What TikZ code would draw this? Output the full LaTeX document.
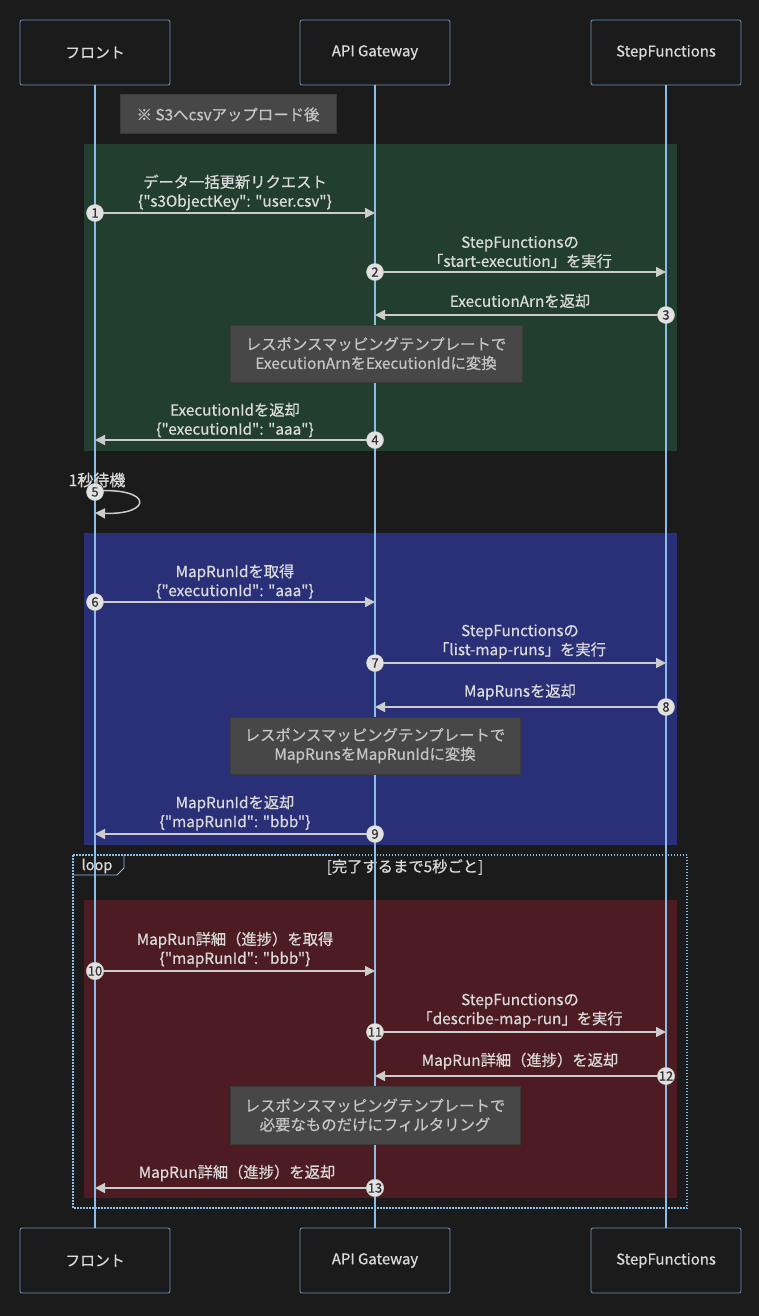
\documentclass[tikz,border=0pt]{standalone}
\usepackage{fontspec}
\setmainfont{Noto Sans CJK JP}[Ligatures = TeXOff, FakeBold = 0.6]
\usetikzlibrary{arrows.meta}

\definecolor{bgcol}{HTML}{1B1B1B}
\definecolor{actorline}{HTML}{6E93BC}
\definecolor{lifecol}{HTML}{8CBDE9}
\definecolor{greenreg}{HTML}{223E2F}
\definecolor{bluereg}{HTML}{2A3078}
\definecolor{redreg}{HTML}{4D1B22}
\definecolor{notefill}{HTML}{474747}
\definecolor{noteline}{HTML}{3A3A3A}
\definecolor{msgtext}{HTML}{DADADA}
\definecolor{notetext}{HTML}{C4C4C4}
\definecolor{msgline}{HTML}{CCCCCC}
\definecolor{numfill}{HTML}{E2E2E2}
\definecolor{numtext}{HTML}{333333}

\tikzset{
    actor/.style = {draw = actorline, fill = bgcol, rounded corners = 2pt, line width = 0.8pt,
        minimum width = 150pt, minimum height = 65pt, text = msgtext,
        font = \fontsize{14.9}{17}\selectfont},
    lifeline/.style = {draw = lifecol, line width = 1.3pt},
    seqnum/.style = {circle, fill = numfill, draw = msgline, line width = 0.5pt, inner sep = 0pt,
        minimum size = 17pt, text = numtext, font = \fontsize{13}{13}\selectfont},
    msg/.style = {draw = msgline, line width = 1.5pt, -{Triangle[length = 10pt, width = 10pt]}},
    msglabel/.style = {text = msgtext, align = center, inner sep = 0pt,
        font = \fontsize{15.3}{19}\selectfont},
    notebox/.style = {fill = notefill, draw = noteline, line width = 1pt, text = notetext,
        align = center, font = \fontsize{15.4}{19}\selectfont},
    loopline/.style = {draw = lifecol, line width = 1.2pt}
}

\begin{document}
\begin{tikzpicture}[x = 1pt, y = -1pt]
    \useasboundingbox [fill = bgcol] (0, 0) rectangle (759, 1316);

    % regions
    \fill [greenreg] (84, 144) rectangle (677, 451);
    \fill [bluereg] (84, 533) rectangle (677, 845);
    \fill [redreg] (84, 900) rectangle (677, 1198);

    % loop frame
    \draw [loopline, dash pattern = on 1.5pt off 1.5pt] (73, 855) rectangle (687, 1208);
    \draw [loopline, line width = 0.8pt] (73, 875) -- (117, 875) -- (124, 868) -- (124, 855);
    \node [text = msgtext, font = \fontsize{14.5}{14}\selectfont] (looptag) at (97, 866) {loop};
    \node [msglabel] (loopcond) at (405, 867) {[完了するまで5秒ごと]};

    % actors
    \node [actor] (front) at (95, 52.5) {フロント};
    \node [actor] (api) at (375, 52.5) {API Gateway};
    \node [actor] (sfn) at (666, 52.5) {StepFunctions};
    \node [actor] (frontb) at (95, 1260.5) {フロント};
    \node [actor] (apib) at (375, 1260.5) {API Gateway};
    \node [actor] (sfnb) at (666, 1260.5) {StepFunctions};

    \draw [lifeline]
        (front) -- (frontb)
        (api) -- (apib)
        (sfn) -- (sfnb)
    ;

    % notes
    \node [notebox, minimum width = 216pt, minimum height = 39pt] (upload) at (228, 114.5)
        {※ S3へcsvアップロード後};
    \node [notebox, minimum width = 292pt, minimum height = 57pt] (conv1) at (376, 353.5)
        {レスポンスマッピングテンプレートで\\ExecutionArnをExecutionIdに変換};
    \node [notebox, minimum width = 290pt, minimum height = 57pt] (conv2) at (375, 745.5)
        {レスポンスマッピングテンプレートで\\MapRunsをMapRunIdに変換};
    \node [notebox, minimum width = 290pt, minimum height = 58pt] (conv3) at (375, 1115)
        {レスポンスマッピングテンプレートで\\必要なものだけにフィルタリング};

    % message end points
    \coordinate (t1) at (375, 213);
    \coordinate (t2) at (666, 272);
    \coordinate (t3) at (375, 315);
    \coordinate (t4) at (95, 440);
    \coordinate (t5) at (95, 513);
    \coordinate (t6) at (375, 602);
    \coordinate (t7) at (666, 663);
    \coordinate (t8) at (375, 707);
    \coordinate (t9) at (95, 834);
    \coordinate (t10) at (375, 971);
    \coordinate (t11) at (666, 1032);
    \coordinate (t12) at (375, 1076);
    \coordinate (t13) at (95, 1188);

    % messages
    \draw [msg] (95, 213) -- (t1);
    \draw [msg] (375, 272) -- (t2);
    \draw [msg] (666, 315) -- (t3);
    \draw [msg] (375, 440) -- (t4);
    \draw [msg] (95, 491) .. controls (153, 487) and (153, 515) .. (t5);
    \draw [msg] (95, 602) -- (t6);
    \draw [msg] (375, 663) -- (t7);
    \draw [msg] (666, 707) -- (t8);
    \draw [msg] (375, 834) -- (t9);
    \draw [msg] (95, 971) -- (t10);
    \draw [msg] (375, 1032) -- (t11);
    \draw [msg] (666, 1076) -- (t12);
    \draw [msg] (375, 1188) -- (t13);

    % sequence numbers
    \foreach \n/\x/\y in {1/95/213, 2/375/272, 3/666/315, 4/375/440, 5/95/492,
                          6/95/602, 7/375/663, 8/666/707, 9/375/834, 10/95/971,
                          11/375/1032, 12/666/1076, 13/375/1188}
        \node [seqnum] (s\n) at (\x, \y) {\n};

    % labels
    \node [msglabel] (l1) at (235, 192.5) {データ一括更新リクエスト\\\{"s3ObjectKey": "user.csv"\}};
    \node [msglabel] (l2) at (520, 252) {StepFunctionsの\\「start-execution」を実行};
    \node [msglabel] (l3) at (520, 301) {ExecutionArnを返却};
    \node [msglabel] (l4) at (235, 420) {ExecutionIdを返却\\\{"executionId": "aaa"\}};
    \node [msglabel, font = \fontsize{16}{19}\selectfont] (l5) at (97, 480) {1秒待機};
    \node [msglabel] (l6) at (235, 581.5) {MapRunIdを取得\\\{"executionId": "aaa"\}};
    \node [msglabel] (l7) at (520, 641.5) {StepFunctionsの\\「list-map-runs」を実行};
    \node [msglabel] (l8) at (520, 692) {MapRunsを返却};
    \node [msglabel] (l9) at (235, 813) {MapRunIdを返却\\\{"mapRunId": "bbb"\}};
    \node [msglabel] (l10) at (235, 949.5) {MapRun詳細（進捗）を取得\\\{"mapRunId": "bbb"\}};
    \node [msglabel] (l11) at (520, 1010.5) {StepFunctionsの\\「describe-map-run」を実行};
    \node [msglabel] (l12) at (520, 1061) {MapRun詳細（進捗）を返却};
    \node [msglabel] (l13) at (237, 1173) {MapRun詳細（進捗）を返却};
\end{tikzpicture}
\end{document}
